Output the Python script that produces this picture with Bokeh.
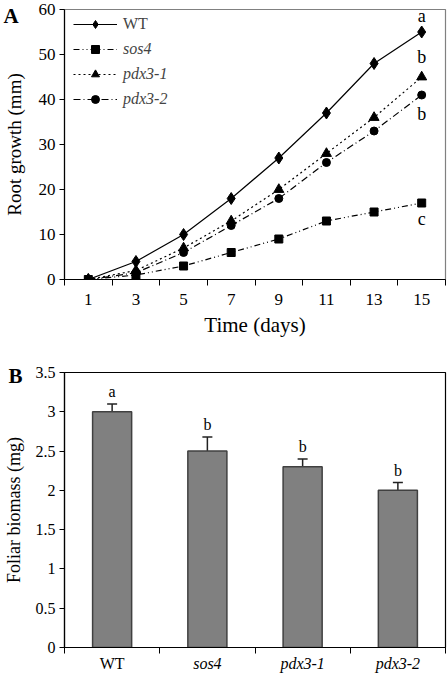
from bokeh.plotting import figure
from bokeh.models import (Range1d, FixedTicker, Legend, LegendItem, GridBox,
                          Whisker, ColumnDataSource, TeeHead)
from bokeh.embed import file_html
from bokeh.resources import INLINE
from bokeh.core.properties import value

# ---------------- data ----------------
days = [1, 3, 5, 7, 9, 11, 13, 15]
wt = [0, 4, 10, 18, 27, 37, 48, 55]
sos4 = [0, 1, 3, 6, 9, 13, 15, 17]
pdx3_1 = [0, 2, 7, 13, 20, 28, 36, 45]
pdx3_2 = [0, 1.5, 6, 12, 18, 26, 33, 41]
series_names = ["WT", "sos4", "pdx3-1", "pdx3-2"]
end_letters = ["a", "c", "b", "b"]
end_letter_shift = [3.5, -3.6, 4.5, -4.2]
a_yticks = [0, 10, 20, 30, 40, 50, 60]
a_day_bounds = [0, 2, 4, 6, 8, 10, 12, 14, 16]

genotypes = ["WT", "sos4", "pdx3-1", "pdx3-2"]
genotype_styles = ["normal", "italic", "italic", "italic"]
biomass = [3.0, 2.5, 2.3, 2.0]
biomass_err = [0.1, 0.18, 0.1, 0.1]
biomass_letters = ["a", "b", "b", "b"]
b_yticks = [0, 0.5, 1, 1.5, 2, 2.5, 3, 3.5]
b_ytick_labels = ["0", "0.5", "1", "1.5", "2", "2.5", "3", "3.5"]

FONT = "Liberation Serif"

# layout constants (pixels)
W = 448
LEFT, RIGHT = 64, 3
A_TOP, A_FRAME, A_BOTTOM = 9, 270, 66
B_TOP, B_FRAME, B_BOTTOM = 27, 275, 27
FW = W - LEFT - RIGHT

A_X = (0, 16)
A_Y = (0, 60)
B_X = (0, 4)
B_Y = (0, 3.5)


def style_common(p):
    p.grid.visible = False
    p.background_fill_color = "white"
    p.border_fill_color = "white"
    p.frame_align = False


# ---------------- panel A ----------------
pa = figure(width=W, height=A_TOP + A_FRAME + A_BOTTOM, x_range=Range1d(*A_X), y_range=Range1d(*A_Y),
            output_backend="svg", toolbar_location=None,
            min_border_left=LEFT, min_border_right=RIGHT, min_border_top=A_TOP,
            min_border_bottom=A_BOTTOM)
style_common(pa)
pa.outline_line_color = "#808080"
pa.outline_line_width = 1.2

xa = pa.xaxis[0]
xa.ticker = FixedTicker(ticks=days, minor_ticks=a_day_bounds)
xa.major_tick_out = 0
xa.major_tick_in = 0
xa.minor_tick_out = 6
xa.minor_tick_in = 0
xa.minor_tick_line_color = "black"
xa.axis_line_color = "black"
xa.axis_line_width = 1.2
xa.major_label_standoff = 8
xa.major_label_text_font = FONT
xa.major_label_text_font_size = "17px"
xa.major_label_text_color = "black"
xa.axis_label = "Time (days)"
xa.axis_label_text_font = FONT
xa.axis_label_text_font_size = "21px"
xa.axis_label_text_font_style = "normal"
xa.axis_label_text_color = "black"
xa.axis_label_standoff = 5

ya = pa.yaxis[0]
ya.ticker = FixedTicker(ticks=a_yticks)
ya.major_tick_out = 5
ya.major_tick_in = 0
ya.minor_tick_out = 0
ya.minor_tick_in = 0
ya.axis_line_color = "black"
ya.axis_line_width = 1.2
ya.major_label_standoff = 4
ya.major_label_text_font = FONT
ya.major_label_text_font_size = "17px"
ya.major_label_text_color = "black"
ya.axis_label = "Root growth (mm)"
ya.axis_label_text_font = FONT
ya.axis_label_text_font_size = "19px"
ya.axis_label_text_font_style = "normal"
ya.axis_label_text_color = "black"
ya.axis_label_standoff = 11

series = [wt, sos4, pdx3_1, pdx3_2]
dashes = ["solid", "6 3 1 3 1 3", "2 3", "7 3 1 3"]
markers = ["diamond", "square", "triangle", "circle"]
msizes = [12, 8, 10, 8]
items = []
for vals, name, dash, mk, ms in zip(series, series_names, dashes, markers, msizes):
    ln = pa.line(days, vals, line_color="black", line_width=1.2, line_dash=dash)
    sc = pa.scatter(days, vals, marker=mk, size=ms, fill_color="black", line_color="black")
    items.append(LegendItem(label=name, renderers=[ln, sc]))

pa.text(x=[days[-1]] * 4, y=[s[-1] + d for s, d in zip(series, end_letter_shift)],
        text=end_letters, text_align="center", text_baseline="middle",
        text_font=value(FONT), text_font_size="18px", text_color="black")

leg_common = dict(background_fill_alpha=0, border_line_alpha=0, padding=0, margin=0,
                  glyph_width=44, glyph_height=20, label_height=20, label_standoff=6,
                  label_text_font=FONT, label_text_font_size="16px", spacing=5)
leg1 = Legend(items=items[:1], location=(9, 245), label_text_font_style="normal", **leg_common)
leg2 = Legend(items=items[1:], location=(9, 170), label_text_font_style="italic", **leg_common)
pa.add_layout(leg1)
pa.add_layout(leg2)

# ---------------- panel B ----------------
pb = figure(width=W, height=B_TOP + B_FRAME + B_BOTTOM, x_range=Range1d(*B_X), y_range=Range1d(*B_Y),
            output_backend="svg", toolbar_location=None,
            min_border_left=LEFT, min_border_right=RIGHT, min_border_top=B_TOP,
            min_border_bottom=B_BOTTOM)
style_common(pb)
pb.outline_line_color = "black"
pb.outline_line_width = 1.2

xs = [i + 0.5 for i in range(len(genotypes))]
xb = pb.xaxis[0]
xb.ticker = FixedTicker(ticks=[], minor_ticks=list(range(len(genotypes) + 1)))
xb.major_tick_out = 0
xb.minor_tick_out = 6
xb.minor_tick_in = 0
xb.minor_tick_line_color = "black"
xb.axis_line_color = "black"
xb.axis_line_width = 1.2

yb = pb.yaxis[0]
yb.ticker = FixedTicker(ticks=b_yticks)
yb.major_label_overrides = dict(zip(b_yticks, b_ytick_labels))
yb.major_tick_out = 5
yb.major_tick_in = 0
yb.minor_tick_out = 0
yb.minor_tick_in = 0
yb.axis_line_color = "black"
yb.axis_line_width = 1.2
yb.major_label_standoff = 4
yb.major_label_text_font = FONT
yb.major_label_text_font_size = "16px"
yb.major_label_text_color = "black"
yb.axis_label = "Foliar biomass (mg)"
yb.axis_label_text_font = FONT
yb.axis_label_text_font_size = "18px"
yb.axis_label_text_font_style = "normal"
yb.axis_label_text_color = "black"
yb.axis_label_standoff = 9

src = ColumnDataSource(dict(x=xs, top=biomass,
                            upper=[b + e for b, e in zip(biomass, biomass_err)],
                            lower=[b - e for b, e in zip(biomass, biomass_err)]))
pb.vbar(x="x", top="top", width=0.41, source=src, fill_color="#808080",
        line_color="#404040", line_width=1.5)
pb.add_layout(Whisker(base="x", upper="upper", lower="lower", source=src,
                      line_color="#222222", line_width=1.5,
                      upper_head=TeeHead(size=10, line_color="#222222", line_width=1.5),
                      lower_head=TeeHead(size=10, line_color="#222222", line_width=1.5)))
pb.text(x=xs, y=[b + e + 0.05 for b, e in zip(biomass, biomass_err)], text=biomass_letters,
        text_align="center", text_baseline="bottom", text_font=value(FONT),
        text_font_size="16px", text_color="black")


# ------------- transparent overlays (texts outside the plot frames) -------------
def overlay(height, top, frame_h, bottom, xr, yr):
    ux = (xr[1] - xr[0]) / FW
    uy = (yr[1] - yr[0]) / frame_h
    o = figure(width=W, height=height,
               x_range=Range1d(xr[0] - LEFT * ux, xr[1] + RIGHT * ux),
               y_range=Range1d(yr[0] - bottom * uy, yr[1] + top * uy),
               output_backend="svg", toolbar_location=None,
               x_axis_location=None, y_axis_location=None,
               min_border=0, min_border_left=0, min_border_right=0,
               min_border_top=0, min_border_bottom=0)
    o.grid.visible = False
    o.outline_line_color = None
    o.background_fill_alpha = 0
    o.border_fill_alpha = 0
    o.frame_align = False
    return o


oa = overlay(A_TOP + A_FRAME + A_BOTTOM, A_TOP, A_FRAME, A_BOTTOM, A_X, A_Y)
oa.text(x=[oa.x_range.start], y=[A_Y[1]], text=["A"], x_offset=3, y_offset=6,
        text_align="left", text_baseline="middle", text_font=value(FONT),
        text_font_size="21px", text_font_style="bold", text_color="black")

ob = overlay(B_TOP + B_FRAME + B_BOTTOM, B_TOP, B_FRAME, B_BOTTOM, B_X, B_Y)
ob.text(x=[ob.x_range.start], y=[B_Y[1]], text=["B"], x_offset=8, y_offset=3,
        text_align="left", text_baseline="middle", text_font=value(FONT),
        text_font_size="21px", text_font_style="bold", text_color="black")
lab_src = ColumnDataSource(dict(x=xs, y=[B_Y[0]] * len(xs), text=genotypes, style=genotype_styles))
ob.text(x="x", y="y", text="text", source=lab_src, y_offset=16, text_font_style="style",
        text_align="center", text_baseline="middle", text_font=value(FONT),
        text_font_size="16px", text_color="black")

layout = GridBox(children=[(pa, 0, 0), (oa, 0, 0), (pb, 1, 0), (ob, 1, 0)], spacing=0)
open("out.html", "w").write(file_html(layout, INLINE))
